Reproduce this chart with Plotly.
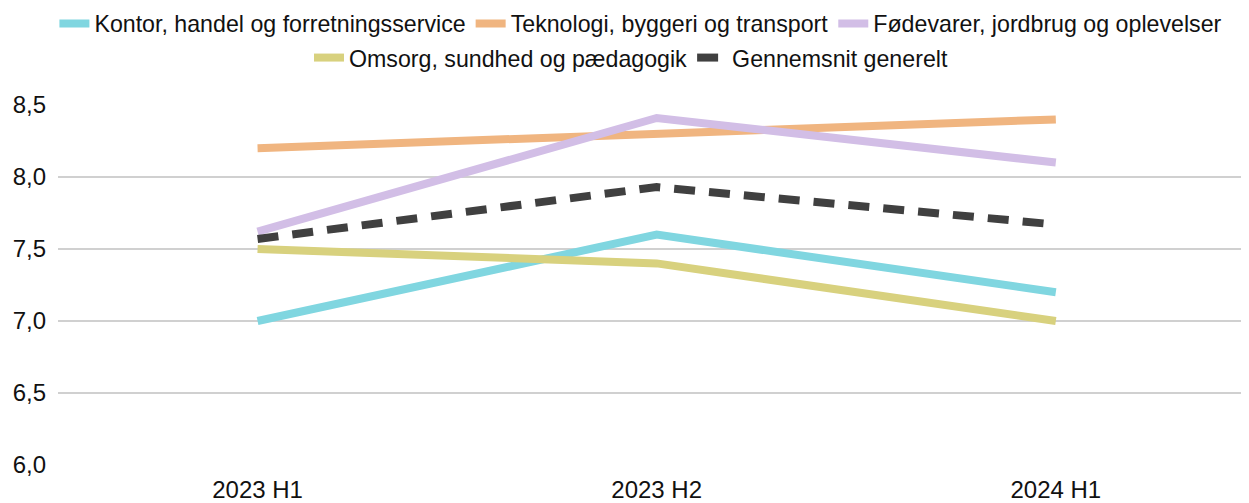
import plotly.graph_objects as go

categories = ["2023 H1", "2023 H2", "2024 H1"]
series_names = [
    "Kontor, handel og forretningsservice",
    "Teknologi, byggeri og transport",
    "Fødevarer, jordbrug og oplevelser",
    "Omsorg, sundhed og pædagogik",
    "Gennemsnit generelt",
]
kontor = [7.0, 7.6, 7.2]
teknologi = [8.2, 8.3, 8.4]
fodevarer = [7.62, 8.41, 8.1]
omsorg = [7.5, 7.4, 7.0]
gennemsnit = [7.57, 7.93, 7.67]
y_ticks = [6.0, 6.5, 7.0, 7.5, 8.0, 8.5]

colors = ["#80d6e0", "#f0b580", "#d2bee6", "#d8d17e", "#404040"]
values = [kontor, teknologi, fodevarer, omsorg, gennemsnit]
legends = ["legend", "legend", "legend", "legend2", "legend2"]

fig = go.Figure()
for name, vals, col, lg in zip(series_names, values, colors, legends):
    dash = "21px,14px" if name == "Gennemsnit generelt" else "solid"
    fig.add_trace(go.Scatter(
        x=categories, y=vals, mode="lines", name=name,
        line=dict(color=col, width=8, dash=dash),
        legend=lg,
    ))

font_family = "Liberation Sans, Arial, sans-serif"
fig.update_layout(
    width=1241, height=495,
    margin=dict(l=50, r=0, t=97, b=38, autoexpand=False),
    paper_bgcolor="white", plot_bgcolor="white",
    separators=",.",
    font=dict(family=font_family, color="#111111"),
    legend=dict(orientation="h", x=0.51, y=0.968, xref="container", yref="container",
                xanchor="center", yanchor="middle",
                font=dict(size=23.2, family=font_family), bgcolor="rgba(0,0,0,0)"),
    legend2=dict(orientation="h", x=0.502, y=0.899, xref="container", yref="container",
                 xanchor="center", yanchor="middle",
                 font=dict(size=23.2, family=font_family), bgcolor="rgba(0,0,0,0)"),
    xaxis=dict(range=[-0.5, 2.484], showgrid=False, showline=False, zeroline=False,
               tickfont=dict(size=24, family=font_family), ticks="",
               ticklabelstandoff=8),
    yaxis=dict(range=[6.0, 8.5], tickvals=y_ticks, tickformat=".1f",
               showgrid=True, gridcolor="#d0d0d0", gridwidth=1.5, zeroline=False,
               showline=False, tickfont=dict(size=24, family=font_family), ticks="",
               ticklabelstandoff=11),
)
fig.write_html("out.html")
